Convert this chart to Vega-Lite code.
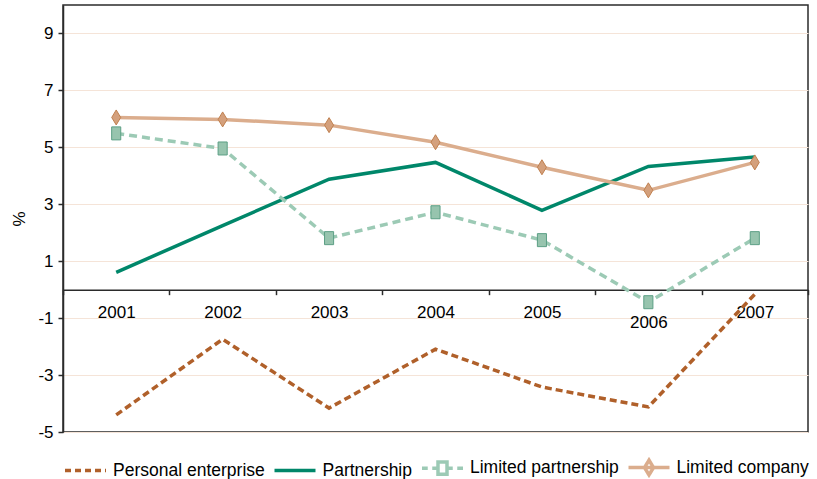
{
  "$schema": "https://vega.github.io/schema/vega-lite/v6.json",
  "width": 745,
  "height": 427,
  "autosize": "none",
  "padding": {"left": 63, "top": 5, "right": 9, "bottom": 47},
  "background": "white",
  "config": {
    "view": {"stroke": "#2b2b2b", "strokeWidth": 1.5},
    "font": "Liberation Sans",
    "axis": {"labelFont": "Liberation Sans", "titleFont": "Liberation Sans", "labelColor": "#000", "titleColor": "#000", "domainColor": "#2b2b2b", "tickColor": "#2b2b2b", "domainWidth": 1.5, "tickWidth": 1.5},
    "legend": {"labelFont": "Liberation Sans", "labelColor": "#000"}
  },
  "data": {"values": [
    {"year": "2001", "series": "Personal enterprise", "value": -4.40},
    {"year": "2002", "series": "Personal enterprise", "value": -1.74},
    {"year": "2003", "series": "Personal enterprise", "value": -4.16},
    {"year": "2004", "series": "Personal enterprise", "value": -2.09},
    {"year": "2005", "series": "Personal enterprise", "value": -3.42},
    {"year": "2006", "series": "Personal enterprise", "value": -4.12},
    {"year": "2007", "series": "Personal enterprise", "value": -0.16},
    {"year": "2001", "series": "Partnership", "value": 0.61},
    {"year": "2002", "series": "Partnership", "value": 2.25},
    {"year": "2003", "series": "Partnership", "value": 3.88},
    {"year": "2004", "series": "Partnership", "value": 4.47},
    {"year": "2005", "series": "Partnership", "value": 2.79},
    {"year": "2006", "series": "Partnership", "value": 4.33},
    {"year": "2007", "series": "Partnership", "value": 4.66},
    {"year": "2001", "series": "Limited partnership", "value": 5.49},
    {"year": "2002", "series": "Limited partnership", "value": 4.96},
    {"year": "2003", "series": "Limited partnership", "value": 1.81},
    {"year": "2004", "series": "Limited partnership", "value": 2.72},
    {"year": "2005", "series": "Limited partnership", "value": 1.74},
    {"year": "2006", "series": "Limited partnership", "value": -0.44},
    {"year": "2007", "series": "Limited partnership", "value": 1.81},
    {"year": "2001", "series": "Limited company", "value": 6.05},
    {"year": "2002", "series": "Limited company", "value": 5.98},
    {"year": "2003", "series": "Limited company", "value": 5.78},
    {"year": "2004", "series": "Limited company", "value": 5.18},
    {"year": "2005", "series": "Limited company", "value": 4.30},
    {"year": "2006", "series": "Limited company", "value": 3.49},
    {"year": "2007", "series": "Limited company", "value": 4.47}
  ]},
  "encoding": {
    "x": {
      "field": "year", "type": "ordinal",
      "scale": {"type": "band", "paddingInner": 0, "paddingOuter": 0},
      "axis": {
        "title": null, "orient": "bottom", "offset": -142.33, "tickBand": "extent",
        "labelAngle": 0, "tickSize": 5, "labelFontSize": 17,
        "labelPadding": {"condition": {"test": "datum.value == '2006'", "value": 20}, "value": 10},
        "grid": false
      }
    },
    "y": {
      "field": "value", "type": "quantitative",
      "scale": {"domain": [-5, 10], "nice": false, "zero": false},
      "axis": {
        "title": "%", "titleFontSize": 17, "titleFontWeight": "normal", "titlePadding": 9,
        "values": [-5, -3, -1, 1, 3, 5, 7, 9], "labelExpr": "'' + datum.value",
        "labelFontSize": 17, "tickSize": 5, "labelPadding": 5,
        "grid": true, "gridColor": "#f5e4d8", "gridWidth": 1
      }
    }
  },
  "layer": [
    {
      "transform": [{"filter": "datum.series == 'Personal enterprise'"}],
      "mark": {"type": "line", "strokeWidth": 3.5, "stroke": "#b0602a", "strokeDash": [7, 4]}
    },
    {
      "transform": [{"filter": "datum.series == 'Partnership'"}],
      "mark": {"type": "line", "strokeWidth": 3.5, "stroke": "#00876a"}
    },
    {
      "transform": [{"filter": "datum.series == 'Limited partnership'"}],
      "mark": {"type": "line", "strokeWidth": 3.5, "stroke": "#9ccab5", "strokeDash": [8, 5]}
    },
    {
      "transform": [{"filter": "datum.series == 'Limited company'"}],
      "mark": {"type": "line", "strokeWidth": 3.5, "stroke": "#dbad8d"}
    },
    {
      "transform": [{"filter": "datum.series == 'Limited partnership'"}],
      "mark": {"type": "point", "filled": true, "shape": "M-0.7,-1L0.7,-1L0.7,1L-0.7,1Z", "size": 169, "fill": "#97c4ae", "stroke": "#5c9f85", "strokeWidth": 1, "opacity": 1}
    },
    {
      "transform": [{"filter": "datum.series == 'Limited company'"}],
      "mark": {"type": "point", "filled": true, "shape": "M0,-1L0.6,0L0,1L-0.6,0Z", "size": 225, "fill": "#d4a07c", "stroke": "#c0804f", "strokeWidth": 1, "opacity": 1}
    },
    {
      "mark": {"type": "point", "filled": true, "opacity": 0},
      "encoding": {
        "fill": {
          "field": "series", "type": "nominal",
          "scale": {"domain": ["Personal enterprise", "Partnership", "Limited partnership", "Limited company"],
                    "range": ["#b0602a", "#00876a", "#97c4ae", "#d4a07c"]},
          "legend": {
            "title": null, "orient": "bottom", "direction": "horizontal",
            "symbolSize": 1681, "symbolStrokeWidth": 3.5, "symbolOpacity": 1,
            "labelFontSize": 17.5, "labelOffset": 5, "columnPadding": 2.5, "offset": 13
          }
        },
        "stroke": {
          "field": "series", "type": "nominal",
          "scale": {"domain": ["Personal enterprise", "Partnership", "Limited partnership", "Limited company"],
                    "range": ["#b0602a", "#00876a", "#9ccab5", "#dbad8d"]}
        },
        "strokeDash": {
          "field": "series", "type": "nominal",
          "scale": {"domain": ["Personal enterprise", "Partnership", "Limited partnership", "Limited company"],
                    "range": [[6, 4], [1, 0], [1, 0], [1, 0]]}
        },
        "shape": {
          "field": "series", "type": "nominal",
          "scale": {"domain": ["Personal enterprise", "Partnership", "Limited partnership", "Limited company"],
                    "range": ["M-1,0L1,0", "M-1,0L1,0", "M-1,0L-0.72,0M-0.5,0L-0.22,0M0.22,0L0.5,0M0.72,0L1,0M-0.22,-0.3L0.22,-0.3L0.22,0.3L-0.22,0.3Z", "M-1,0L1,0M0,-0.36L0.22,0L0,0.36L-0.22,0Z"]}
        }
      }
    }
  ]
}
